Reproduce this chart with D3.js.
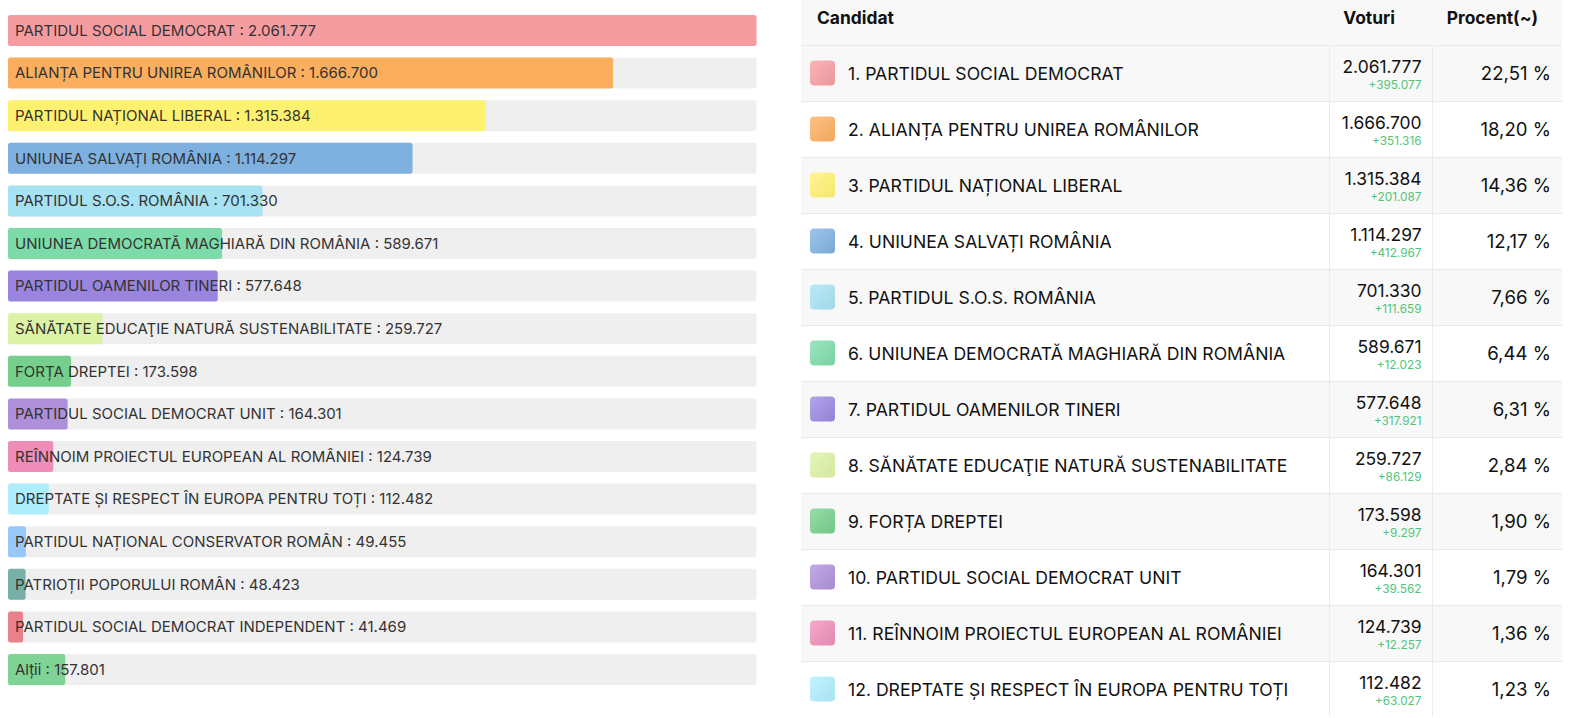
<!DOCTYPE html>
<html>
<head>
<meta charset="utf-8">
<script src="https://cdn.jsdelivr.net/npm/d3@7"></script>
<style>
  html, body { margin: 0; padding: 0; background: #ffffff; }
  svg { display: block; }
</style>
</head>
<body>
<svg id="chart" width="1576" height="718"></svg>
<script>
// ---------- DATA ----------
const parties = [
  "PARTIDUL SOCIAL DEMOCRAT",
  "ALIANȚA PENTRU UNIREA ROMÂNILOR",
  "PARTIDUL NAȚIONAL LIBERAL",
  "UNIUNEA SALVAȚI ROMÂNIA",
  "PARTIDUL S.O.S. ROMÂNIA",
  "UNIUNEA DEMOCRATĂ MAGHIARĂ DIN ROMÂNIA",
  "PARTIDUL OAMENILOR TINERI",
  "SĂNĂTATE EDUCAŢIE NATURĂ SUSTENABILITATE",
  "FORȚA DREPTEI",
  "PARTIDUL SOCIAL DEMOCRAT UNIT",
  "REÎNNOIM PROIECTUL EUROPEAN AL ROMÂNIEI",
  "DREPTATE ȘI RESPECT ÎN EUROPA PENTRU TOȚI",
  "PARTIDUL NAȚIONAL CONSERVATOR ROMÂN",
  "PATRIOȚII POPORULUI ROMÂN",
  "PARTIDUL SOCIAL DEMOCRAT INDEPENDENT",
  "Alții"
];
const votes = [2061777, 1666700, 1315384, 1114297, 701330, 589671, 577648, 259727,
               173598, 164301, 124739, 112482, 49455, 48423, 41469, 157801];
const colors = ["#f59ca1", "#fbae5e", "#fff170", "#7eb0e0", "#a6e2f2", "#7ddba9",
                "#9985e0", "#dcf2a4", "#76cf8c", "#ae8fda", "#ee8db8", "#aeeefc",
                "#98c8f8", "#76b0a6", "#e8818a", "#7fd395"];

// table (first 12 candidates)
const tableCount = 12;
const deltas = [395077, 351316, 201087, 412967, 111659, 12023, 317921, 86129, 9297, 39562, 12257, 63027];
const percents = [22.51, 18.20, 14.36, 12.17, 7.66, 6.44, 6.31, 2.84, 1.90, 1.79, 1.36, 1.23];
const headers = ["Candidat", "Voturi", "Procent(~)"];

// ---------- FORMAT ----------
const ro = d3.formatLocale({decimal: ",", thousands: ".", grouping: [3], currency: ["", " lei"]});
const fmtInt = ro.format(",d");
const fmtPct = ro.format(".2f");

const svg = d3.select("#chart");
const font = "Inter, 'Noto Sans', sans-serif";

// ---------- BAR CHART ----------
const barLeft = 8, barRight = 756.5;
const n = parties.length;
const x = d3.scaleLinear().domain([0, d3.max(votes)]).range([0, barRight - barLeft]);
const y = d3.scaleBand().domain(d3.range(n))
  .range([15, 15 + 42.6 * (n - 1) + 31]).paddingInner(11.6 / 42.6).paddingOuter(0);

const rows = svg.append("g").selectAll("g").data(parties).join("g")
  .attr("transform", (d, i) => `translate(${barLeft},${y(i)})`);

rows.append("rect")
  .attr("width", barRight - barLeft)
  .attr("height", y.bandwidth())
  .attr("rx", 2.5)
  .attr("fill", "#efefef");

rows.append("rect")
  .attr("width", (d, i) => x(votes[i]))
  .attr("height", y.bandwidth())
  .attr("rx", 2.5)
  .attr("fill", (d, i) => colors[i]);

rows.append("text")
  .attr("x", 7)
  .attr("y", y.bandwidth() / 2)
  .attr("dy", "0.36em")
  .attr("font-family", font)
  .attr("font-size", 15)
  .attr("fill", "#333")
  .text((d, i) => `${d} : ${fmtInt(votes[i])}`);

// ---------- TABLE ----------
const tLeft = 801, tRight = 1562;
const headerH = 45, rowH = 56;
const col1 = 1329, col2 = 1432;
const tbl = svg.append("g");

const defs = svg.append("defs");
colors.slice(0, tableCount).forEach((c, i) => {
  const g = defs.append("linearGradient").attr("id", "sw" + i)
    .attr("x1", 0).attr("y1", 0).attr("x2", 1).attr("y2", 1);
  g.append("stop").attr("offset", 0).attr("stop-color", d3.interpolateRgb(c, "#fff")(0.25));
  g.append("stop").attr("offset", 1).attr("stop-color", d3.interpolateRgb(c, "#000")(0.04));
});

// header
tbl.append("rect").attr("x", tLeft).attr("y", 0).attr("width", tRight - tLeft).attr("height", headerH).attr("fill", "#f8f8f8");
const hy = 18;
tbl.append("text").attr("x", 817).attr("y", hy).attr("dy", "0.36em").attr("font-family", font)
  .attr("font-weight", 700).attr("font-size", 17.4).attr("fill", "#111").text(headers[0]);
tbl.append("text").attr("x", 1395).attr("y", hy).attr("dy", "0.36em").attr("text-anchor", "end").attr("font-family", font)
  .attr("font-weight", 700).attr("font-size", 17.4).attr("fill", "#111").text(headers[1]);
tbl.append("text").attr("x", 1538).attr("y", hy).attr("dy", "0.36em").attr("text-anchor", "end").attr("font-family", font)
  .attr("font-weight", 700).attr("font-size", 17.4).attr("fill", "#111").text(headers[2]);

const ty = d3.scaleBand().domain(d3.range(tableCount)).range([headerH, headerH + rowH * tableCount]);

const trs = tbl.append("g").selectAll("g").data(parties.slice(0, tableCount)).join("g")
  .attr("transform", (d, i) => `translate(0,${ty(i)})`);

trs.append("rect").attr("x", tLeft).attr("width", tRight - tLeft).attr("height", rowH)
  .attr("fill", (d, i) => i % 2 === 0 ? "#f8f8f8" : "#ffffff");
trs.append("line").attr("x1", tLeft).attr("x2", tRight).attr("y1", 0.5).attr("y2", 0.5)
  .attr("stroke", "#e9e9e9");
trs.append("line").attr("x1", col1 + 0.5).attr("x2", col1 + 0.5).attr("y1", 0).attr("y2", rowH).attr("stroke", "#ececec");
trs.append("line").attr("x1", col2 + 0.5).attr("x2", col2 + 0.5).attr("y1", 0).attr("y2", rowH).attr("stroke", "#ececec");

trs.append("rect").attr("x", 810).attr("y", 15.5).attr("width", 25).attr("height", 25).attr("rx", 4)
  .attr("fill", (d, i) => `url(#sw${i})`);

trs.append("text").attr("x", 848).attr("y", 28.5).attr("dy", "0.36em").attr("font-family", font)
  .attr("font-size", 17.6).attr("fill", "#111")
  .text((d, i) => `${i + 1}. ${d}`);

trs.append("text").attr("x", 1421.5).attr("y", 21.5).attr("dy", "0.36em").attr("text-anchor", "end")
  .attr("font-family", font).attr("font-size", 17.4).attr("fill", "#111")
  .text((d, i) => fmtInt(votes[i]));

trs.append("text").attr("x", 1421.5).attr("y", 40).attr("dy", "0.36em").attr("text-anchor", "end")
  .attr("font-family", font).attr("font-size", 11.8).attr("fill", "#52c47a")
  .text((d, i) => "+" + fmtInt(deltas[i]));

trs.append("text").attr("x", 1551).attr("y", 28.5).attr("dy", "0.36em").attr("text-anchor", "end")
  .attr("font-family", font).attr("font-size", 18.6).attr("fill", "#111")
  .text((d, i) => fmtPct(percents[i]) + " %");
</script>
</body>
</html>
